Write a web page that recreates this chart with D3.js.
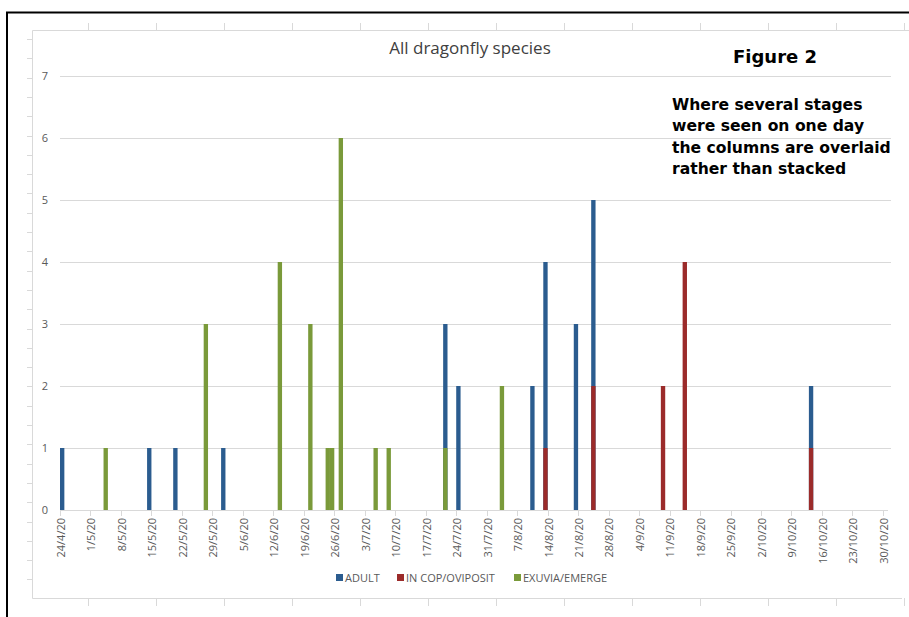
<!DOCTYPE html>
<html>
<head>
<meta charset="utf-8">
<script src="https://cdn.jsdelivr.net/npm/d3@7"></script>
<style>
  html, body { margin: 0; padding: 0; background: #fff; overflow: hidden; }
  svg { display: block; }
  text { font-family: "Open Sans", "Noto Sans", sans-serif; }
</style>
</head>
<body>
<svg id="chart" width="909" height="617"></svg>
<script>
// ---- Data ----
const seriesNames = ["ADULT", "IN COP/OVIPOSIT", "EXUVIA/EMERGE"];
const seriesColors = ["#2B5C8F", "#9B2B2A", "#7A9A3A"];

const adultDates  = ["24/4/20","14/5/20","20/5/20","31/5/20","21/7/20","24/7/20","10/8/20","13/8/20","20/8/20","24/8/20","13/10/20"];
const adultValues = [1,1,1,1,3,2,2,4,3,5,2];

const copDates  = ["13/8/20","24/8/20","9/9/20","14/9/20","13/10/20"];
const copValues = [1,2,2,4,1];

const exuviaDates  = ["4/5/20","27/5/20","13/6/20","20/6/20","24/6/20","25/6/20","27/6/20","5/7/20","8/7/20","21/7/20","3/8/20"];
const exuviaValues = [1,3,4,3,1,1,6,1,1,1,2];

const tickLabels = ["24/4/20","1/5/20","8/5/20","15/5/20","22/5/20","29/5/20","5/6/20","12/6/20","19/6/20","26/6/20",
  "3/7/20","10/7/20","17/7/20","24/7/20","31/7/20","7/8/20","14/8/20","21/8/20","28/8/20","4/9/20","11/9/20",
  "18/9/20","25/9/20","2/10/20","9/10/20","16/10/20","23/10/20","30/10/20"];

const yTicks = [0,1,2,3,4,5,6,7];
const startDate = "24/4/20", endDate = "30/10/20";

// ---- Setup ----
const parse = d3.timeParse("%-d/%-m/%y");
const fmt = d3.timeFormat("%-d/%-m/%y");
const allDays = d3.timeDay.range(parse(startDate), d3.timeDay.offset(parse(endDate), 1)).map(fmt);

const svg = d3.select("#chart");

// Outer black frame (open to the right and bottom)
svg.append("path").attr("d", "M7,640 V12.5 H909")
  .attr("fill", "none").attr("stroke", "#000").attr("stroke-width", 2);

// Page ruler (light gray)
const ruler = svg.append("g").attr("stroke", "#d9d9d9").attr("stroke-width", 1).attr("fill", "none");
ruler.append("path").attr("d", "M32.5,598.5 V30.5 H909");
ruler.append("path").attr("d", "M32.5,598.5 H902");
d3.range(88, 905, 68).forEach(x => {
  ruler.append("line").attr("x1", x + .5).attr("x2", x + .5).attr("y1", 23).attr("y2", 30);
  ruler.append("line").attr("x1", x + .5).attr("x2", x + .5).attr("y1", 598).attr("y2", 606);
});
d3.range(39, 598, 19.3).forEach(y => {
  ruler.append("line").attr("x1", 27).attr("x2", 32).attr("y1", Math.round(y) + .5).attr("y2", Math.round(y) + .5);
});

const x = d3.scaleBand().domain(allDays).range([60, 60 + allDays.length * 4.354]).padding(0);
const y = d3.scaleLinear().domain([0, 7]).range([510, 76]);

// Gridlines
svg.append("g").selectAll("line").data(yTicks.filter(d => d > 0)).join("line")
  .attr("x1", 60).attr("x2", 891)
  .attr("y1", d => Math.round(y(d)) + .5).attr("y2", d => Math.round(y(d)) + .5)
  .attr("stroke", "#d9d9d9").attr("stroke-width", 1);

// Y labels
svg.append("g").selectAll("text").data(yTicks).join("text")
  .attr("x", 48).attr("y", d => y(d)).attr("dy", "0.35em")
  .attr("text-anchor", "end").attr("font-size", 11).attr("fill", "#595959")
  .text(d => d);

// Bars (overlaid, drawn in series order)
const series = [
  {dates: adultDates, values: adultValues},
  {dates: copDates, values: copValues},
  {dates: exuviaDates, values: exuviaValues}
];
series.forEach((s, i) => {
  svg.append("g").selectAll("rect").data(s.dates.map((d, j) => ({d, v: s.values[j]}))).join("rect")
    .attr("x", d => x(d.d)).attr("width", x.bandwidth())
    .attr("y", d => y(d.v)).attr("height", d => y(0) - y(d.v))
    .attr("fill", seriesColors[i]);
});

// X axis line and ticks
const xAxisG = svg.append("g");
xAxisG.append("line").attr("x1", 60).attr("x2", 888).attr("y1", 510.5).attr("y2", 510.5)
  .attr("stroke", "#d9d9d9");
xAxisG.selectAll("line.tk").data(tickLabels).join("line").attr("class", "tk")
  .attr("x1", d => Math.round(x(d)) + .5).attr("x2", d => Math.round(x(d)) + .5)
  .attr("y1", 510).attr("y2", 516).attr("stroke", "#d9d9d9");
xAxisG.selectAll("text").data(tickLabels).join("text")
  .attr("transform", d => `translate(${x(d) + 1},518) rotate(-90)`)
  .attr("dy", "0.35em").attr("text-anchor", "end")
  .attr("font-size", 11).attr("fill", "#595959")
  .text(d => d);

// Title
svg.append("text").attr("x", 470).attr("y", 54).attr("text-anchor", "middle")
  .attr("font-size", 17).attr("fill", "#404040").text("All dragonfly species");

svg.append("text").attr("x", 733).attr("y", 63)
  .style("font-family", "'DejaVu Sans', sans-serif")
  .attr("font-size", 18).attr("font-weight", "bold")
  .attr("fill", "#000").text("Figure 2");

const note = ["Where several stages", "were seen on one day", "the columns are overlaid", "rather than stacked"];
svg.append("g").selectAll("text").data(note).join("text")
  .attr("x", 672).attr("y", (d, i) => 110 + i * 21.3)
  .style("font-family", "'DejaVu Sans', sans-serif")
  .attr("font-size", 15.6).attr("font-weight", "bold").attr("fill", "#000")
  .text(d => d);

// Legend
const legendX = [336, 397, 514];
const lg = svg.append("g");
seriesNames.forEach((n, i) => {
  lg.append("rect").attr("x", legendX[i]).attr("y", 574).attr("width", 7).attr("height", 7).attr("fill", seriesColors[i]);
  lg.append("text").attr("x", legendX[i] + 9).attr("y", 578).attr("dy", "0.35em")
    .attr("font-size", 11).attr("fill", "#595959").text(n);
});
</script>
</body>
</html>
